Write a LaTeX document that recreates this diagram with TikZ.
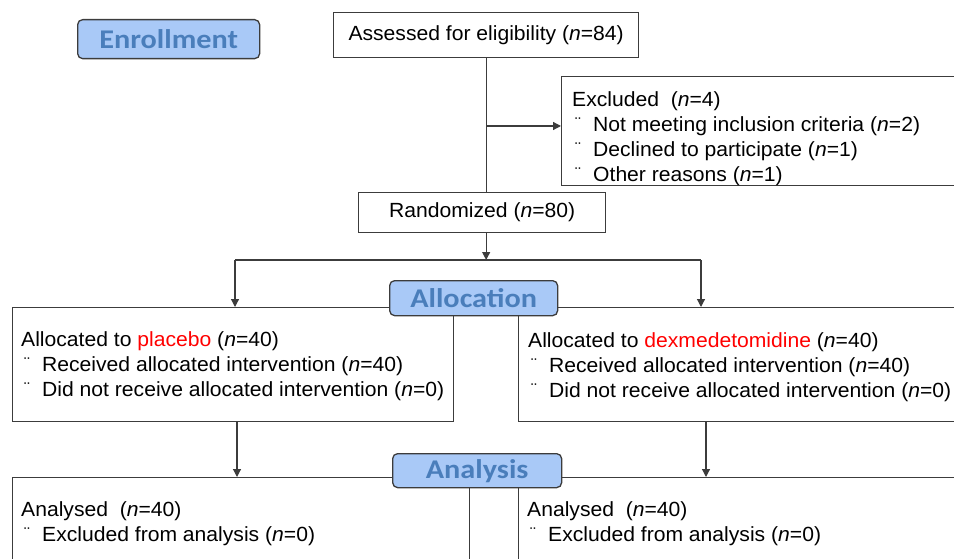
\documentclass[tikz,border=0pt]{standalone}
\usepackage{fontspec}
\setmainfont[FakeStretch=1.03]{Liberation Sans}
\newfontfamily\labelfont[FakeStretch=1.12]{Carlito}
\usetikzlibrary{arrows.meta}
\definecolor{linegray}{HTML}{3C3C3C}
\definecolor{labelfill}{HTML}{A9C9F7}
\definecolor{labeltext}{HTML}{4A7EBB}
\definecolor{hilite}{HTML}{FF0000}
\newcommand{\nn}{\textit{n}}
\newcommand{\bul}[1]{\hspace*{3pt}\makebox[18pt][l]{\raisebox{2pt}{\fontsize{17}{25}\selectfont ¨}}#1}
\newcommand{\flines}[1]{\begin{tabular}[t]{@{}l@{}}#1\end{tabular}}
\begin{document}
\begin{tikzpicture}[x=1pt,y=-1pt,
  box/.style={draw=linegray, line width=1.3pt, rectangle, inner sep=0pt, anchor=north west, fill=white, font=\fontsize{20.5}{25}\selectfont},
  txt/.style={inner sep=0pt, anchor=base west, font=\fontsize{20.5}{25}\selectfont},
  stage/.style={draw=linegray, line width=1.3pt, fill=labelfill, rounded corners=5pt, inner sep=0pt, text=labeltext, font=\labelfont\bfseries\fontsize{27}{30}\selectfont, anchor=north west},
  link/.style={draw=linegray, line width=1.2pt},
  arr/.style={link, -{Triangle[width=8pt,length=8pt]}},
]
\useasboundingbox (0,0) rectangle (954,559);

% boxes
\node[box, minimum width=305pt, minimum height=45pt] (assess) at (333,12) {Assessed for eligibility (\nn=84)};
\node[box, minimum width=450pt, minimum height=109pt] (excl) at (561,76) {};
\node[txt] (exclt) at (572,107) {\flines{Excluded\ \ (\nn=4)\\
  \bul{Not meeting inclusion criteria (\nn=2)}\\
  \bul{Declined to participate (\nn=1)}\\
  \bul{Other reasons (\nn=1)}}};
\node[box, minimum width=247pt, minimum height=40pt] (rand) at (358,192) {Randomized (\nn=80)};

\node[box, minimum width=441pt, minimum height=114pt] (allocL) at (12,307) {};
\node[txt] (allocLt) at (21,346) {\flines{Allocated to \textcolor{hilite}{placebo} (\nn=40)\\
  \bul{Received allocated intervention (\nn=40)}\\
  \bul{Did not receive allocated intervention (\nn=0)}}};
\node[box, minimum width=500pt, minimum height=114pt] (allocR) at (518,307) {};
\node[txt] (allocRt) at (528,347) {\flines{Allocated to \textcolor{hilite}{dexmedetomidine} (\nn=40)\\
  \bul{Received allocated intervention (\nn=40)}\\
  \bul{Did not receive allocated intervention (\nn=0)}}};

\node[box, minimum width=457pt, minimum height=120pt] (anaL) at (12,477) {};
\node[txt] (anaLt) at (21,516) {\flines{Analysed\ \ (\nn=40)\\
  \bul{Excluded from analysis (\nn=0)}}};
\node[box, minimum width=500pt, minimum height=120pt] (anaR) at (518,477) {};
\node[txt] (anaRt) at (527,516) {\flines{Analysed\ \ (\nn=40)\\
  \bul{Excluded from analysis (\nn=0)}}};

% connectors
\coordinate (exclbranch) at (assess.south |- 0,126);
\coordinate (split) at (assess.south |- 0,260);
\coordinate (sl) at (235,260);
\coordinate (sr) at (701,260);
\coordinate (dl) at (237,0);
\coordinate (dr) at (706,0);
\draw[link] (assess.south) -- (assess.south |- rand.north);
\draw[arr] (exclbranch) -- (exclbranch -| excl.west);
\draw[arr] (rand.south -| split) -- (split);
\draw[link] (sl) -- (sr);
\draw[arr] (sl) -- (sl |- allocL.north);
\draw[arr] (sr) -- (sr |- allocR.north);
\draw[arr] (allocL.south -| dl) -- (anaL.north -| dl);
\draw[arr] (allocR.south -| dr) -- (anaR.north -| dr);

% stage labels
\node[stage, minimum width=182pt, minimum height=39pt] (enroll) at (77,19) {Enrollment};
\node[stage, minimum width=168pt, minimum height=35pt] (allocation) at (389,280) {Allocation};
\node[stage, minimum width=169pt, minimum height=34pt] (analysis) at (392,453) {Analysis};
\end{tikzpicture}
\end{document}
